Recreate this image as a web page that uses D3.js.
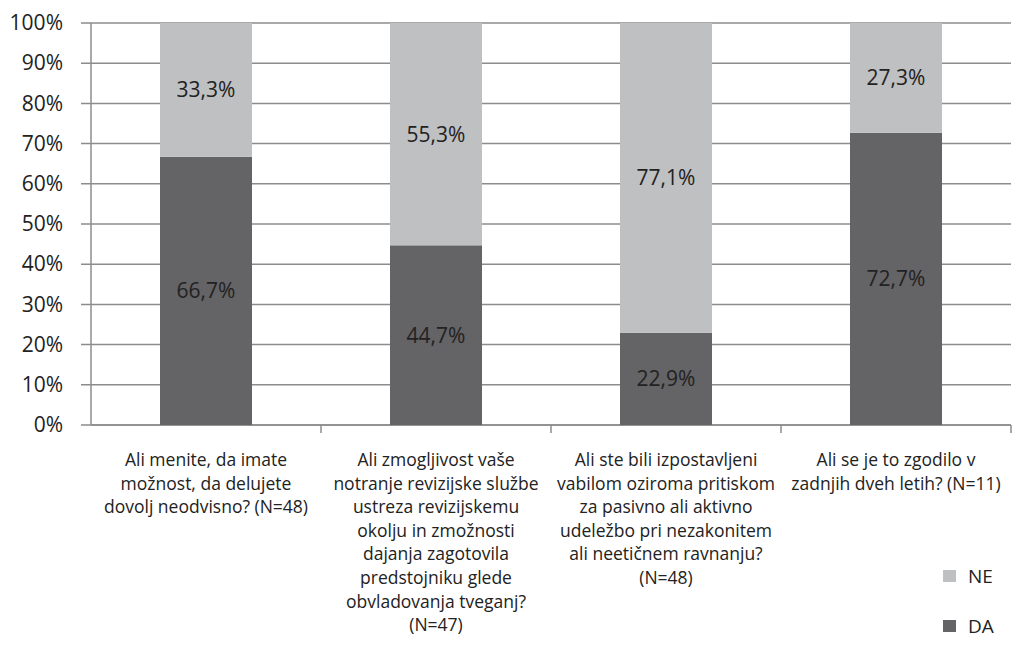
<!DOCTYPE html>
<html>
<head>
<meta charset="utf-8">
<script src="https://cdn.jsdelivr.net/npm/d3@7"></script>
<style>
body { margin: 0; background: #fff; }
text { font-family: "Open Sans", "Noto Sans", sans-serif; fill: #222; }
</style>
</head>
<body>
<script>
// podatki
var categories = ["q1", "q2", "q3", "q4"];
var categoryLines = [
    ["Ali menite, da imate", "možnost, da delujete", "dovolj neodvisno? (N=48)"],
    ["Ali zmogljivost vaše", "notranje revizijske službe", "ustreza revizijskemu", "okolju in zmožnosti", "dajanja zagotovila", "predstojniku glede", "obvladovanja tveganj?", "(N=47)"],
    ["Ali ste bili izpostavljeni", "vabilom oziroma pritiskom", "za pasivno ali aktivno", "udeležbo pri nezakonitem", "ali neetičnem ravnanju?", "(N=48)"],
    ["Ali se je to zgodilo v", "zadnjih dveh letih? (N=11)"]
];
var daValues = [66.7, 44.7, 22.9, 72.7];
var neValues = [33.3, 55.3, 77.1, 27.3];
var yTicks = [0, 10, 20, 30, 40, 50, 60, 70, 80, 90, 100];

var W = 1017, H = 648;
var margin = { top: 23, right: 6, bottom: 223, left: 91 };
var svg = d3.select("body").append("svg").attr("width", W).attr("height", H);
var width = W - margin.left - margin.right;
var height = H - margin.top - margin.bottom;
var g = svg.append("g").attr("transform", "translate(" + margin.left + "," + margin.top + ")");

var x = d3.scaleBand().domain(categories).range([0, 920]);
var y = d3.scaleLinear().domain([0, 100]).range([height, 0]);
var barW = x.bandwidth() * 0.4;

// mreža
g.selectAll(".grid").data(yTicks).enter().append("line")
    .attr("x1", -10).attr("x2", width)
    .attr("y1", function (d) { return y(d); }).attr("y2", function (d) { return y(d); })
    .attr("stroke", "#8c8c8c").attr("stroke-width", 1.5);

// y os
var yAxis = g.append("g").call(d3.axisLeft(y).tickValues(yTicks).tickSize(0).tickPadding(28)
    .tickFormat(function (d) { return d + "%"; }));
yAxis.select(".domain").remove();
yAxis.selectAll("text").style("font-size", "21px").attr("fill", "#222");
g.append("line").attr("x1", 0).attr("x2", 0).attr("y1", 0).attr("y2", height)
    .attr("stroke", "#8c8c8c").attr("stroke-width", 1.5);

// x os
g.append("line").attr("x1", 0).attr("x2", width).attr("y1", height).attr("y2", height)
    .attr("stroke", "#8c8c8c").attr("stroke-width", 1.5);
g.selectAll(".xtick").data(categories).enter().append("line")
    .attr("x1", function (d) { return x(d) + x.bandwidth(); })
    .attr("x2", function (d) { return x(d) + x.bandwidth(); })
    .attr("y1", height).attr("y2", height + 8)
    .attr("stroke", "#8c8c8c").attr("stroke-width", 1.5);

// stolpci
var bar = g.selectAll(".bar").data(categories).enter().append("g").attr("class", "bar");
bar.append("rect")
    .attr("x", function (d) { return x(d) + (x.bandwidth() - barW) / 2; })
    .attr("width", barW)
    .attr("y", function (d, i) { return y(daValues[i]); })
    .attr("height", function (d, i) { return height - y(daValues[i]); })
    .attr("fill", "#646365");
bar.append("rect")
    .attr("x", function (d) { return x(d) + (x.bandwidth() - barW) / 2; })
    .attr("width", barW)
    .attr("y", function (d, i) { return y(100); })
    .attr("height", function (d, i) { return y(daValues[i]) - y(100); })
    .attr("fill", "#bfc0c2");

function fmt(v) { return v.toFixed(1).replace(".", ",") + "%"; }
bar.append("text")
    .attr("x", function (d) { return x(d) + x.bandwidth() / 2; })
    .attr("y", function (d, i) { return y(daValues[i] / 2); })
    .attr("dy", "0.35em").attr("text-anchor", "middle").style("font-size", "21px")
    .text(function (d, i) { return fmt(daValues[i]); });
bar.append("text")
    .attr("x", function (d) { return x(d) + x.bandwidth() / 2; })
    .attr("y", function (d, i) { return y(daValues[i] + neValues[i] / 2); })
    .attr("dy", "0.35em").attr("text-anchor", "middle").style("font-size", "21px")
    .text(function (d, i) { return fmt(neValues[i]); });

// oznake kategorij
g.selectAll(".cat").data(categories).enter().append("text")
    .attr("text-anchor", "middle").style("font-size", "17.5px")
    .attr("transform", function (d) { return "translate(" + (x(d) + x.bandwidth() / 2) + "," + (height + 41) + ")"; })
    .each(function (d, i) {
        var t = d3.select(this);
        categoryLines[i].forEach(function (line, j) {
            t.append("tspan").attr("x", 0).attr("y", j * 23.6).text(line);
        });
    });

// legenda
var legend = [{ name: "NE", color: "#bfc0c2" }, { name: "DA", color: "#646365" }];
var lg = svg.selectAll(".legend").data(legend).enter().append("g")
    .attr("transform", function (d, i) { return "translate(943," + (570 + i * 50) + ")"; });
lg.append("rect").attr("width", 13).attr("height", 12).attr("fill", function (d) { return d.color; });
lg.append("text").attr("x", 25).attr("y", 6).attr("dy", "0.38em").style("font-size", "19px")
    .text(function (d) { return d.name; });
</script>
</body>
</html>
